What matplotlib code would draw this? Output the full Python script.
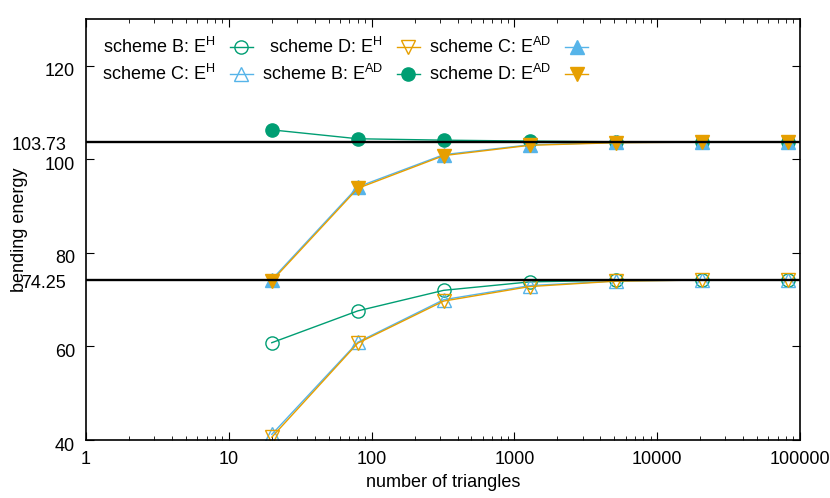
import matplotlib
matplotlib.use("Agg")
import matplotlib.pyplot as plt
import matplotlib.transforms as mtransforms

plt.rcParams['font.family'] = ['Liberation Sans', 'DejaVu Sans']
plt.rcParams['mathtext.fontset'] = 'custom'
plt.rcParams['mathtext.rm'] = 'Liberation Sans'
plt.rcParams['mathtext.it'] = 'Liberation Sans'

triangles = [20, 80, 320, 1280, 5120, 20480, 81920]
B_H = [60.8, 67.6, 72.0, 73.8, 74.15, 74.25, 74.25]
C_H = [41.2, 60.9, 70.0, 73.0, 74.0, 74.2, 74.25]
D_H = [40.6, 60.7, 69.7, 72.8, 73.95, 74.2, 74.25]
B_AD = [106.3, 104.4, 104.1, 103.9, 103.75, 103.73, 103.73]
C_AD = [74.3, 94.1, 101.0, 103.1, 103.6, 103.7, 103.73]
D_AD = [74.0, 93.8, 100.8, 103.0, 103.55, 103.68, 103.7]
ref_H = 74.25
ref_AD = 103.73
ref_labels = ['74.25', '103.73']
yticks = [40, 60, 80, 100, 120]
xticks = [1, 10, 100, 1000, 10000, 100000]
xticklabels = ['1', '10', '100', '1000', '10000', '100000']

green = '#009e73'
blue = '#56b4e9'
orange = '#e69f00'
FS = 13

fig = plt.figure(figsize=(8.3, 4.98), dpi=100)
ax = fig.add_axes([86/830, 1-440/498, 714/830, 421/498])

ms = 9.5
ax.plot(triangles, B_H, color=green, marker='o', mfc='none', ms=ms, lw=1, mew=1, label='scheme B: E$^{\\mathrm{H}}$')
ax.plot(triangles, C_H, color=blue, marker='^', mfc='none', ms=ms, lw=1, mew=1, label='scheme C: E$^{\\mathrm{H}}$')
ax.plot(triangles, D_H, color=orange, marker='v', mfc='none', ms=ms, lw=1, mew=1, label='scheme D: E$^{\\mathrm{H}}$')
ax.plot(triangles, B_AD, color=green, marker='o', ms=ms, lw=1, label='scheme B: E$^{\\mathrm{AD}}$')
ax.plot(triangles, C_AD, color=blue, marker='^', ms=ms, lw=1, label='scheme C: E$^{\\mathrm{AD}}$')
ax.plot(triangles, D_AD, color=orange, marker='v', ms=ms, lw=1, label='scheme D: E$^{\\mathrm{AD}}$')

ax.axhline(ref_H, color='black', lw=1.7, zorder=5)
ax.axhline(ref_AD, color='black', lw=1.7, zorder=5)

ax.set_xscale('log')
ax.set_xlim(1, 100000)
ax.set_ylim(40, 130)
ax.set_xticks(xticks)
ax.set_xticklabels(xticklabels)
ax.set_yticks(yticks)
ax.tick_params(which='both', direction='in', top=True, right=True, labelsize=FS)
ax.tick_params(axis='x', pad=8)
ax.tick_params(axis='y', pad=8)
ax.tick_params(which='major', length=6)
ax.tick_params(which='minor', length=3)
for sp in ax.spines.values():
    sp.set_linewidth(1.2)

# shift y tick labels slightly down like the reference
off = mtransforms.ScaledTranslation(0, -4/100, fig.dpi_scale_trans)
for lab in ax.get_yticklabels():
    lab.set_transform(lab.get_transform() + off)

# labels for the reference lines
btrans = mtransforms.blended_transform_factory(ax.transAxes, ax.transData) + off
for val, txt in zip([ref_H, ref_AD], ref_labels):
    ax.text(-0.028, val, txt, transform=btrans, ha='right', va='center', fontsize=FS, clip_on=False)

ax.set_xlabel('number of triangles', fontsize=FS)
ax.set_ylabel('bending energy', fontsize=FS)
ax.xaxis.set_label_coords(0.5, -0.08)
ax.yaxis.set_label_coords(-0.081, 0.5)

leg = ax.legend(ncol=3, loc='upper left', bbox_to_anchor=(0.0, 0.995), frameon=False,
                markerfirst=False, fontsize=FS, handlelength=1.25, columnspacing=0.5,
                handletextpad=0.8, labelspacing=0.35)

fig.savefig('out.png', dpi=100)
